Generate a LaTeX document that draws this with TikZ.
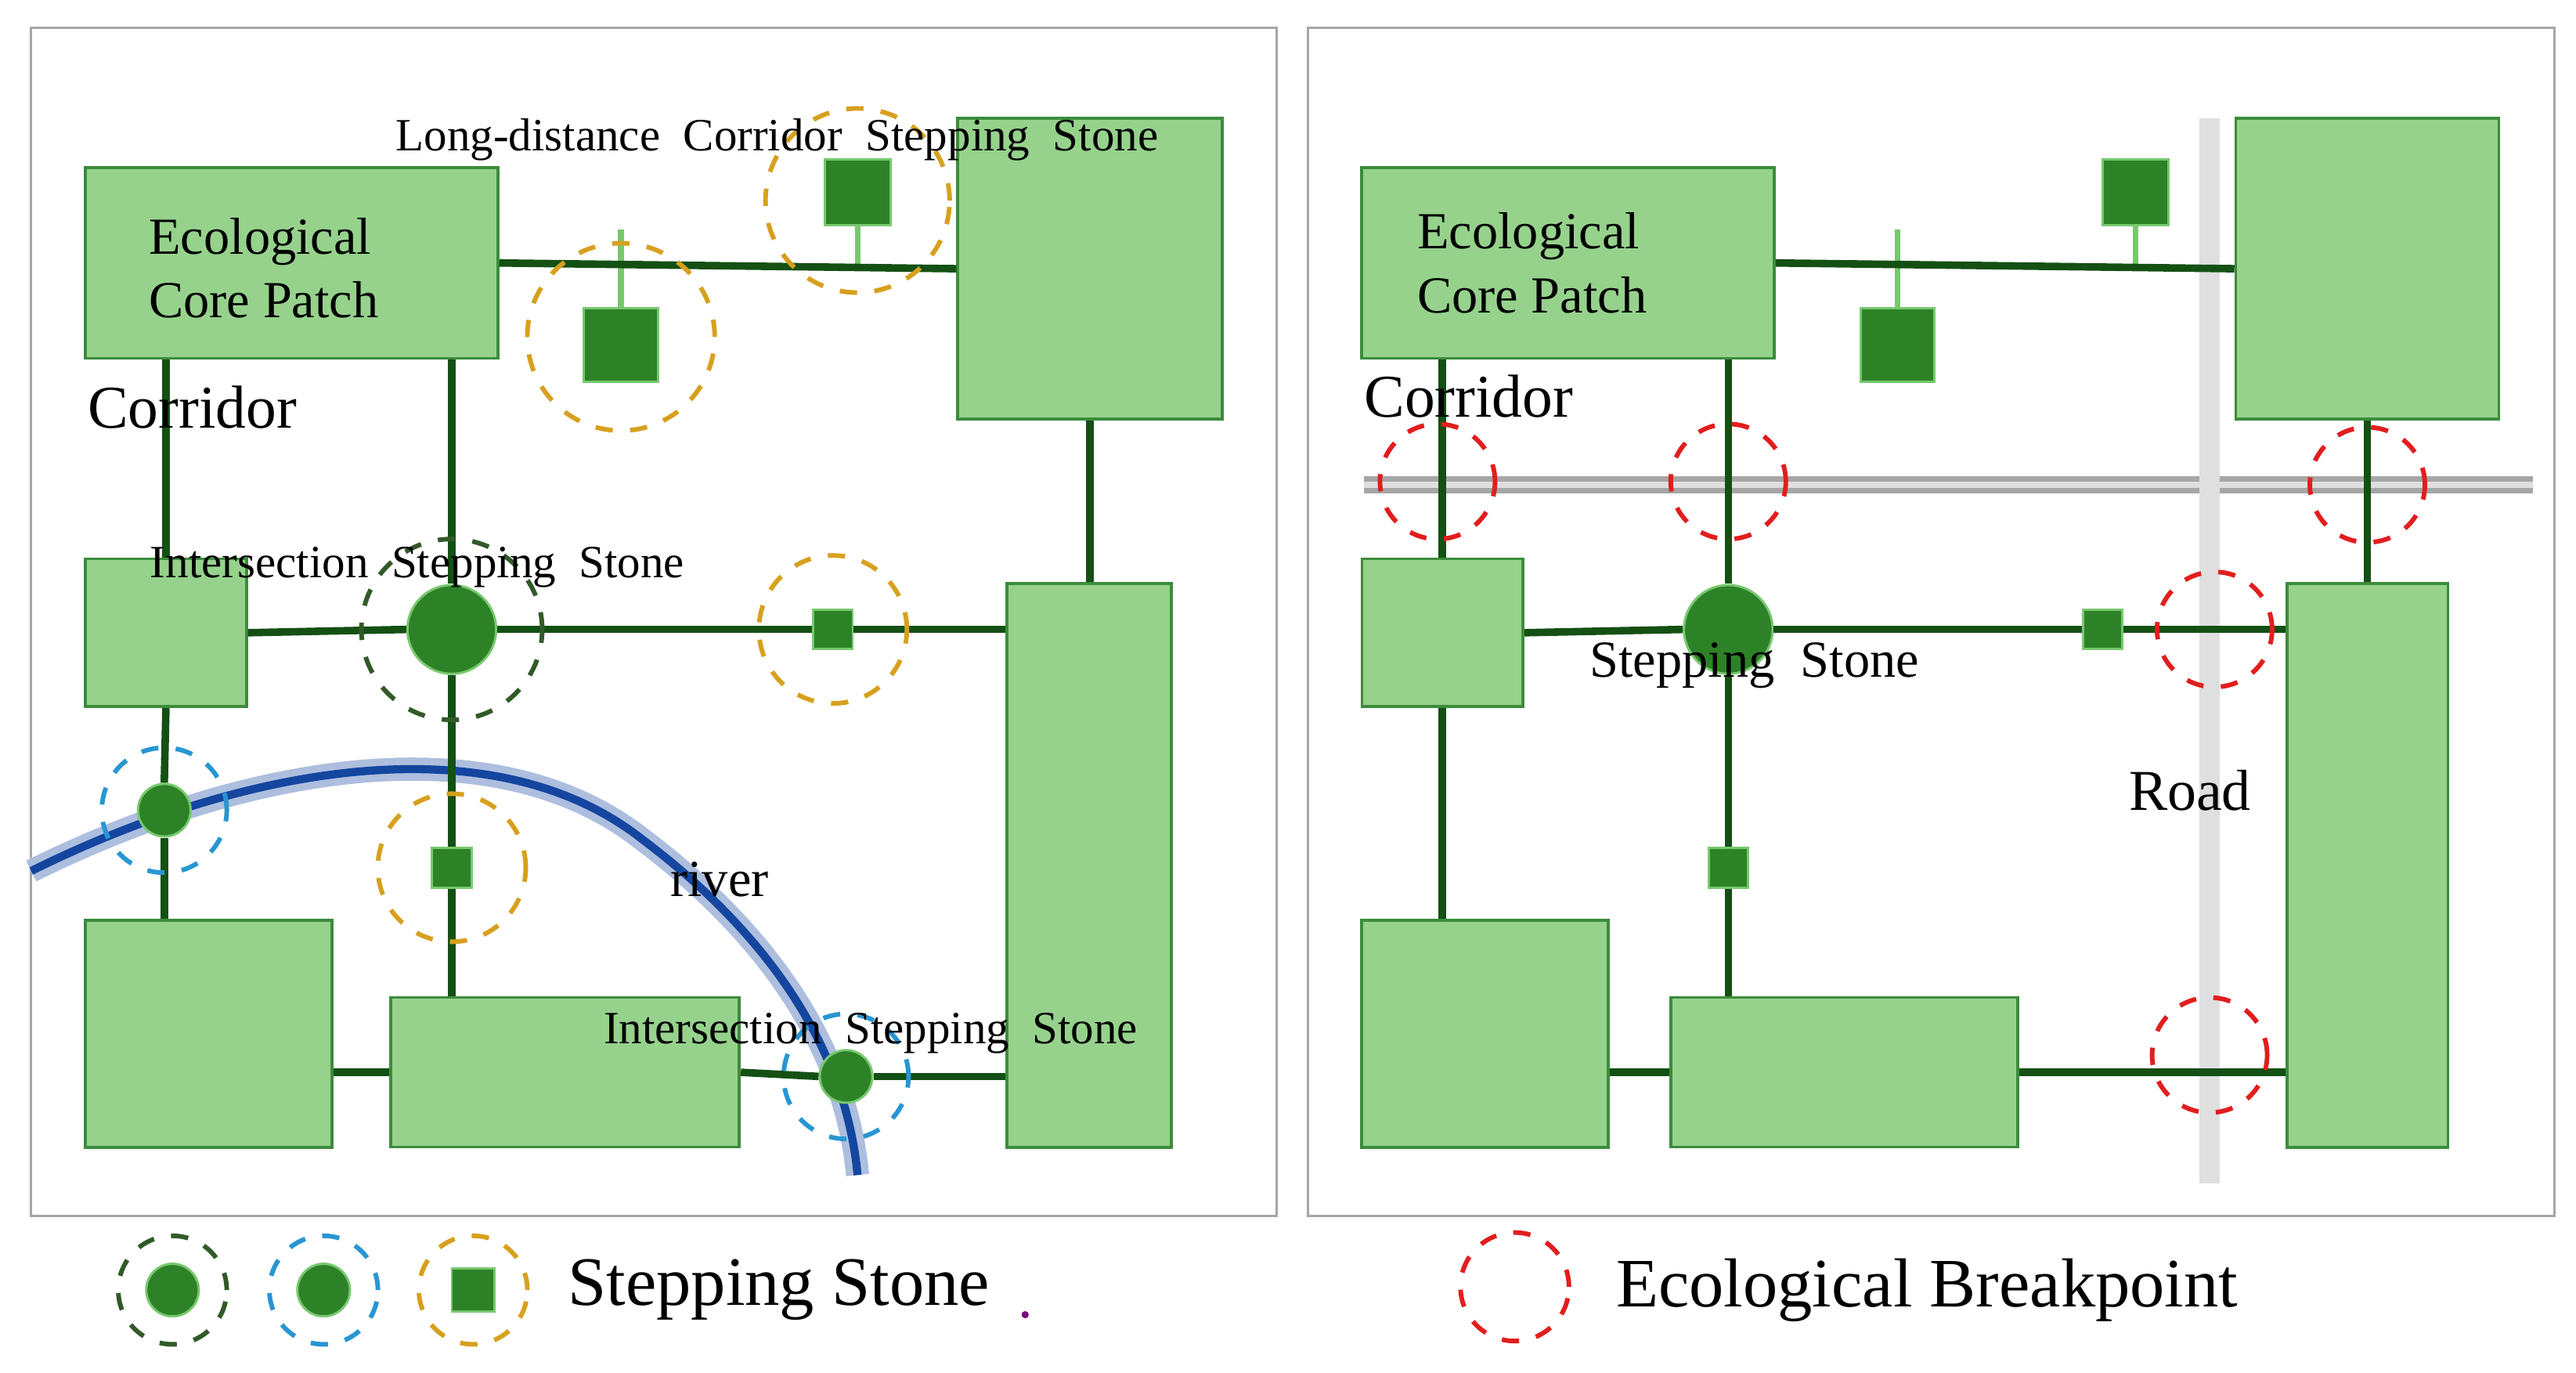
\documentclass[tikz,border=0pt]{standalone}
\usepackage{fontspec}
\setmainfont{Liberation Serif}
\usetikzlibrary{positioning}
\definecolor{patchfill}{RGB}{150,210,140}
\definecolor{patchline}{RGB}{60,140,60}
\definecolor{corr}{RGB}{20,80,20}
\definecolor{stone}{RGB}{45,130,40}
\definecolor{stub}{RGB}{120,200,110}
\definecolor{ringgreen}{RGB}{50,90,40}
\definecolor{ringblue}{RGB}{40,150,210}
\definecolor{ringorange}{RGB}{215,160,30}
\definecolor{ringred}{RGB}{225,30,30}
\definecolor{riverblue}{RGB}{20,70,160}

\begin{document}
\begin{tikzpicture}[x=0.01cm,y=-0.01cm]
	\tikzset{patch/.style = {draw=patchline,fill=patchfill,line width=0.5pt,inner sep=0pt}}
	\tikzset{corridor/.style = {draw=corr,line width=1.3pt}}
	\tikzset{stoneC/.style = {circle,fill=stone,draw=stub,line width=0.4pt,inner sep=0pt}}
	\tikzset{stoneS/.style = {fill=stone,draw=stub,line width=0.4pt,inner sep=0pt}}
	\tikzset{ring/.style = {circle,dashed,line width=0.8pt,inner sep=0pt}}
	\tikzset{lbl/.style = {font=\fontsize{8}{9}\selectfont,inner sep=0pt}}
	\useasboundingbox (0,0) rectangle (1568,835);
	
	% frames
	\draw[gray!70] (19,17) rectangle (777,740);
	\draw[gray!70] (796,17) rectangle (1555,740);
	
	% left panel patches
	\node[patch,minimum width=25.1mm,minimum height=11.6mm] (A) at (177.5,160) {};
	\node[patch,minimum width=16.1mm,minimum height=18.3mm] (B) at (663.5,163.5) {};
	\node[patch,minimum width=9.8mm,minimum height=9mm] (C) at (101,385) {};
	\node[patch,minimum width=10mm,minimum height=34.3mm] (D) at (663,526.5) {};
	\node[patch,minimum width=15mm,minimum height=13.8mm] (E) at (127,629) {};
	\node[patch,minimum width=21.2mm,minimum height=9.1mm] (F) at (344,652.5) {};
	
	% river
	\draw[riverblue!35,line width=4pt] (19,530) .. controls (150,465) and (300,440) .. (390,510) .. controls (470,570) and (515,640) .. (522,715);
	\draw[riverblue,line width=1.4pt] (19,530) .. controls (150,465) and (300,440) .. (390,510) .. controls (470,570) and (515,640) .. (522,715);
	
	% left stones
	\node[stoneC,minimum size=5.4mm] (s1) at (275,383) {};
	\node[stoneS,minimum size=4.5mm] (s2) at (378,210) {};
	\node[stoneS,minimum size=4mm] (s3) at (522,117) {};
	\node[stoneS,minimum size=2.4mm] (s4) at (507,383) {};
	\node[stoneC,minimum size=3.2mm] (s5) at (100,493) {};
	\node[stoneS,minimum size=2.4mm] (s6) at (275,528) {};
	\node[stoneC,minimum size=3.2mm] (s7) at (515,655) {};
	
	% left corridors
	\draw[stub,line width=1pt] (s2.north) -- ++(0,-47) coordinate (j2);
	\draw[stub,line width=1pt] (s3.south) -- ++(0,26) coordinate (j3);
	\draw[corridor] (A.east) -- (B.west);
	\draw[corridor] (C.north) -- (C.north |- A.south);
	\draw[corridor] (s1.north |- A.south) -- (s1.north);
	\draw[corridor] (s1.south) -- (s6.north);
	\draw[corridor] (s6.south) -- (s6.south |- F.north);
	\draw[corridor] (B.south) -- (D.north -| B.south);
	\draw[corridor] (C.east) -- (s1.west);
	\draw[corridor] (s1.east) -- (s4.west);
	\draw[corridor] (s4.east) -- (s4.east -| D.west);
	\draw[corridor] (C.south) -- (s5.north);
	\draw[corridor] (s5.south) -- (s5.south |- E.north);
	\draw[corridor] (E.east |- F.west) -- (F.west);
	\draw[corridor] (F.east) -- (s7.west);
	\draw[corridor] (s7.east) -- (s7.east -| D.west);
	
	% left rings
	\node[ring,draw=ringgreen,minimum size=11mm] (r1) at (s1) {};
	\node[ring,draw=ringorange,minimum size=11.4mm] (r2) at (378,205) {};
	\node[ring,draw=ringorange,minimum size=11.2mm] (r3) at (522,122) {};
	\node[ring,draw=ringorange,minimum size=9mm] (r4) at (s4) {};
	\node[ring,draw=ringblue,minimum size=7.6mm] (r5) at (s5) {};
	\node[ring,draw=ringorange,minimum size=9mm] (r6) at (s6) {};
	\node[ring,draw=ringblue,minimum size=7.6mm] (r7) at (s7) {};
	
	% left labels
	\node[lbl,font=\fontsize{9}{11}\selectfont,align=left,anchor=west] (tA) at (90,163) {Ecological\\Core Patch};
	\node[lbl,font=\fontsize{10.5}{12}\selectfont] (tCor) at (117,248) {Corridor};
	\node[lbl] (tLong) at (473,85) {Long-distance\ \ Corridor\ \ Stepping\ \ Stone};
	\node[lbl] (tInt1) at (254,345) {Intersection\ \ Stepping\ \ Stone};
	\node[lbl] (tInt2) at (530,629) {Intersection\ \ Stepping\ \ Stone};
	\node[lbl,font=\fontsize{9}{11}\selectfont] (tRiver) at (438,535) {river};
	
	% right panel roads
	\draw[gray!70,line width=3pt] (830,295) -- (1542,295);
	\draw[gray!25,line width=1.2pt] (830,295) -- (1542,295);
	\draw[gray!25,line width=3.5pt] (1345,72) -- (1345,720);
	
	% right panel patches
	\node[patch,minimum width=25.1mm,minimum height=11.6mm] (A2) at (954.5,160) {};
	\node[patch,minimum width=16mm,minimum height=18.3mm] (B2) at (1441,163.5) {};
	\node[patch,minimum width=9.8mm,minimum height=9mm] (C2) at (878,385) {};
	\node[patch,minimum width=9.8mm,minimum height=34.3mm] (D2) at (1441,526.5) {};
	\node[patch,minimum width=15mm,minimum height=13.8mm] (E2) at (904,629) {};
	\node[patch,minimum width=21.1mm,minimum height=9.1mm] (F2) at (1122.5,652.5) {};
	
	% right stones
	\node[stoneC,minimum size=5.4mm] (q1) at (1052,383) {};
	\node[stoneS,minimum size=4.5mm] (q2) at (1155,210) {};
	\node[stoneS,minimum size=4mm] (q3) at (1300,117) {};
	\node[stoneS,minimum size=2.4mm] (q4) at (1280,383) {};
	\node[stoneS,minimum size=2.4mm] (q6) at (1052,528) {};
	
	% right corridors
	\draw[stub,line width=1pt] (q2.north) -- ++(0,-47);
	\draw[stub,line width=1pt] (q3.south) -- ++(0,26);
	\draw[corridor] (A2.east) -- (B2.west);
	\draw[corridor] (C2.north) -- (C2.north |- A2.south);
	\draw[corridor] (q1.north |- A2.south) -- (q1.north);
	\draw[corridor] (q1.south) -- (q6.north);
	\draw[corridor] (q6.south) -- (q6.south |- F2.north);
	\draw[corridor] (B2.south) -- (D2.north -| B2.south);
	\draw[corridor] (C2.east) -- (q1.west);
	\draw[corridor] (q1.east) -- (q4.west);
	\draw[corridor] (q4.east) -- (q4.east -| D2.west);
	\draw[corridor] (C2.south) -- (C2.south |- E2.north);
	\draw[corridor] (E2.east |- F2.west) -- (F2.west);
	\draw[corridor] (F2.east) -- (F2.east -| D2.west);
	
	% breakpoints
	\node[ring,draw=ringred,minimum size=7mm] (b1) at (875,293) {};
	\node[ring,draw=ringred,minimum size=7mm] (b2) at (1052,293) {};
	\node[ring,draw=ringred,minimum size=7mm] (b3) at (1441,295) {};
	\node[ring,draw=ringred,minimum size=7mm] (b4) at (1348,383) {};
	\node[ring,draw=ringred,minimum size=7mm] (b5) at (1345,642) {};
	
	% right labels
	\node[lbl,font=\fontsize{9}{11}\selectfont,align=left,anchor=west] (tA2) at (862,160) {Ecological\\Core Patch};
	\node[lbl,font=\fontsize{10.5}{12}\selectfont] (tCor2) at (894,241) {Corridor};
	\node[lbl,font=\fontsize{9}{11}\selectfont] (tStep2) at (1068,405) {Stepping\ \ Stone};
	\node[lbl,font=\fontsize{10}{12}\selectfont] (tRoad) at (1333,481) {Road};
	
	% legend
	\node[ring,draw=ringgreen,minimum size=6.6mm] (g1) at (105,785) {};
	\node[stoneC,minimum size=3.2mm] at (g1) {};
	\node[ring,draw=ringblue,minimum size=6.6mm] (g2) at (197,785) {};
	\node[stoneC,minimum size=3.2mm] at (g2) {};
	\node[ring,draw=ringorange,minimum size=6.6mm] (g3) at (288,785) {};
	\node[stoneS,minimum size=2.6mm] at (g3) {};
	\node[lbl,font=\fontsize{12}{14}\selectfont,anchor=west] (tLeg1) at (345,785) {Stepping Stone};
	\fill[violet] (624,800) circle (2.2);
	\node[ring,draw=ringred,minimum size=6.6mm] (g4) at (922,783) {};
	\node[lbl,font=\fontsize{12}{14}\selectfont,anchor=west] (tLeg2) at (983,785) {Ecological Breakpoint};
\end{tikzpicture}
\end{document}
